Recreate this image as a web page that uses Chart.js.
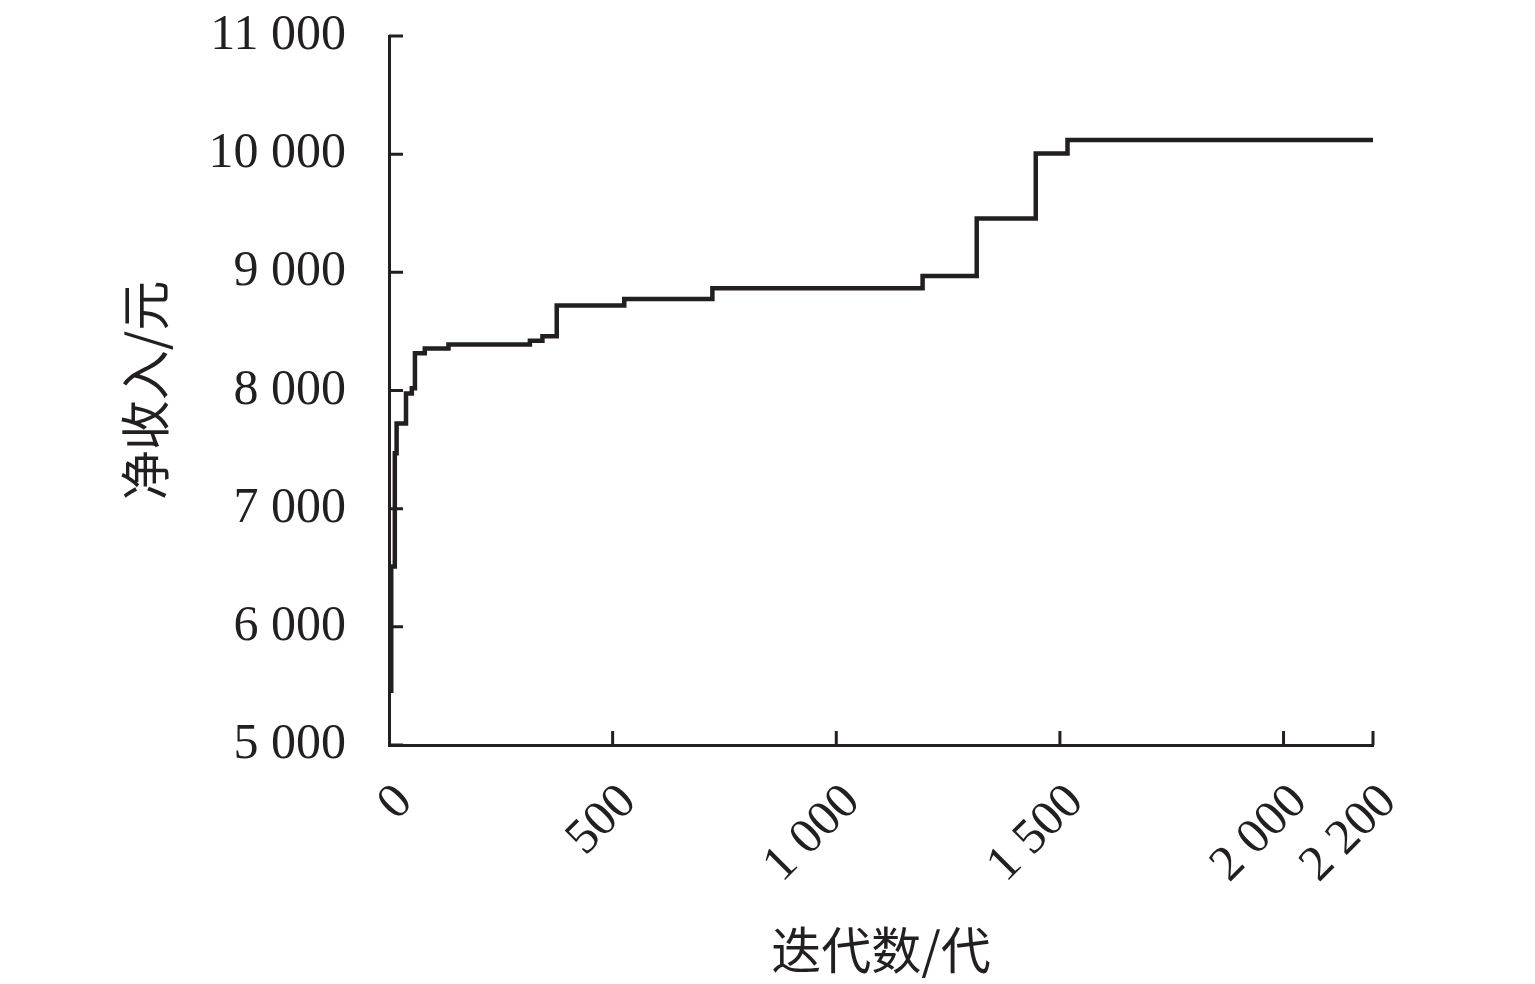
<!DOCTYPE html>
<html>
<head>
<meta charset="utf-8">
<script src="https://cdn.jsdelivr.net/npm/chart.js@4/dist/chart.umd.min.js"></script>
<style>
  html, body { margin: 0; padding: 0; background: #fff; }
  #wrap { width: 1535px; height: 984px; }
</style>
</head>
<body>
<div id="wrap"><canvas id="chart"></canvas></div>
<script>
// iteration where the best net income changes, and the new value
const iterations = [1, 5, 13, 17, 38, 51, 58, 80, 133, 315, 343, 375, 526, 723, 1193, 1314, 1446, 1517, 2200];
const netIncome = [5460, 6510, 7470, 7720, 7975, 8020, 8315, 8355, 8390, 8420, 8460, 8720, 8775, 8865, 8970, 9455, 10005, 10120, 10120];

const xTicks = [0, 500, 1000, 1500, 2000, 2200];
const yTicks = [5000, 6000, 7000, 8000, 9000, 10000, 11000];

const ink = "#231f20";
const numFont = "'Liberation Serif', 'Times New Roman', serif";
const cjkFont = "'Noto Sans CJK SC', 'Liberation Serif', sans-serif";

function fmt(v) {
  // thousands separated by a space, like the printed figure
  const s = String(v);
  if (s.length <= 3) return s;
  return s.slice(0, s.length - 3) + " " + s.slice(s.length - 3);
}

// tick marks point into the plot area
const innerTicks = {
  id: "innerTicks",
  afterDraw(chart) {
    const ctx = chart.ctx;
    const area = chart.chartArea;
    const x = chart.scales.x;
    const y = chart.scales.y;
    const len = 14;
    ctx.save();
    ctx.strokeStyle = ink;
    ctx.lineWidth = 3;
    ctx.beginPath();
    yTicks.forEach(v => {
      const py = y.getPixelForValue(v);
      ctx.moveTo(area.left, py);
      ctx.lineTo(area.left + len, py);
    });
    xTicks.forEach(v => {
      if (v === 0) return;
      const px = x.getPixelForValue(v);
      ctx.moveTo(px, area.bottom);
      ctx.lineTo(px, area.bottom - len);
    });
    ctx.stroke();
    ctx.restore();
  }
};

const points = iterations.map((it, i) => ({ x: it, y: netIncome[i] }));

new Chart(document.getElementById("chart"), {
  type: "line",
  data: {
    datasets: [{
      data: points,
      borderColor: ink,
      borderWidth: 4.5,
      pointRadius: 0,
      stepped: "before",
      fill: false
    }]
  },
  options: {
    responsive: true,
    maintainAspectRatio: false,
    animation: false,
    layout: { padding: { top: 36, right: 162, left: 0, bottom: 0 } },
    plugins: {
      legend: { display: false },
      tooltip: { enabled: false }
    },
    scales: {
      x: {
        type: "linear",
        min: 0,
        max: 2200,
        afterBuildTicks: s => { s.ticks = xTicks.map(v => ({ value: v })); },
        afterFit: s => { s.height = 239; s.paddingLeft = 0; s.paddingRight = 0; },
        grid: { display: true, drawOnChartArea: false, drawTicks: false },
        border: { display: true, color: ink, width: 3 },
        ticks: {
          autoSkip: false,
          minRotation: 45,
          maxRotation: 45,
          padding: 28,
          labelOffset: 16,
          color: ink,
          font: { family: numFont, size: 50 },
          callback: v => fmt(v)
        },
        title: {
          display: true,
          text: "迭代数/代",
          color: ink,
          font: { family: cjkFont, size: 50, lineHeight: 1 },
          padding: { top: 0, bottom: 9 }
        }
      },
      y: {
        min: 5000,
        max: 11000,
        afterBuildTicks: s => { s.ticks = yTicks.map(v => ({ value: v })); },
        afterFit: s => { s.width = 389; s.paddingTop = 0; s.paddingBottom = 0; },
        grid: { display: true, drawOnChartArea: false, drawTicks: false },
        border: { display: true, color: ink, width: 3 },
        ticks: {
          padding: 43,
          color: ink,
          font: { family: numFont, size: 50 },
          callback: v => fmt(v)
        },
        title: {
          display: true,
          text: "净收入/元",
          color: ink,
          font: { family: cjkFont, size: 50, lineHeight: 1 },
          padding: { top: 120, bottom: 0 }
        }
      }
    }
  },
  plugins: [innerTicks]
});
</script>
</body>
</html>
